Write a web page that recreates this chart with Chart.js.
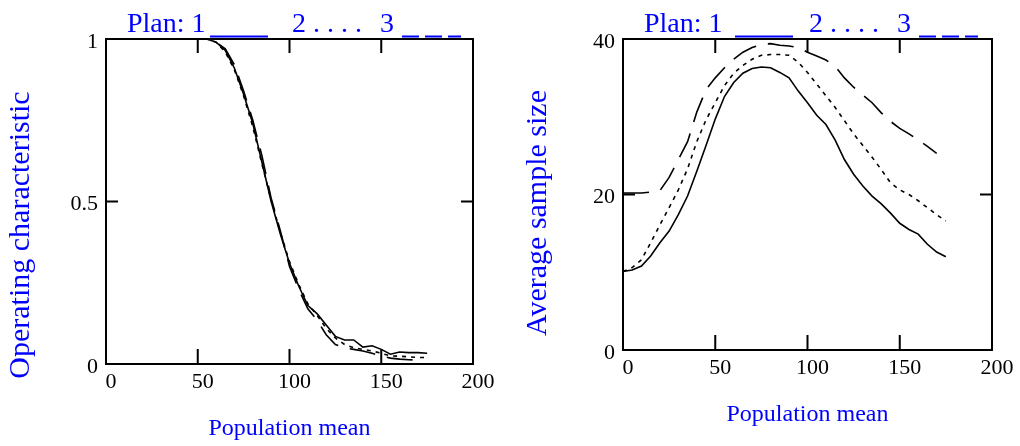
<!DOCTYPE html>
<html>
<head>
<meta charset="utf-8">
<title>Operating characteristic and average sample size</title>
<script src="https://cdn.jsdelivr.net/npm/chart.js@4.4.1/dist/chart.umd.min.js"></script>
<style>
  body { margin: 0; background: #fff; }
  #wrap { position: relative; width: 1020px; height: 446px; }
  canvas { position: absolute; top: 0; }
  #ocChart { left: 0; }
  #asnChart { left: 510px; }
</style>
</head>
<body>
<div id="wrap">
  <canvas id="ocChart" width="510" height="446"></canvas>
  <canvas id="asnChart" width="510" height="446"></canvas>
</div>
<script>
// population means shared by all curves
const popMean = [0,5,10,15,20,25,30,35,40,45,50,55,60,65,70,75,80,85,90,95,100,105,110,115,120,125,130,135,140,145,150,155,160,165,170,175];

// operating characteristic, plans 1-3
const ocPlan1 = [1,1,1,1,1,1,1,1,1,1,1,1,0.99,0.965,0.91,0.83,0.74,0.62,0.5,0.4,0.31,0.24,0.18,0.155,0.12,0.085,0.074,0.074,0.052,0.056,0.045,0.03,0.037,0.035,0.035,0.033];
const ocPlan2 = [1,1,1,1,1,1,1,1,1,1,1,1,0.99,0.96,0.905,0.825,0.73,0.615,0.505,0.405,0.315,0.245,0.185,0.15,0.11,0.08,0.06,0.05,0.045,0.04,0.033,0.025,0.024,0.022,0.02,0.02];
const ocPlan3 = [1,1,1,1,1,1,1,1,1,1,1,1,0.99,0.97,0.92,0.84,0.75,0.64,0.51,0.41,0.30,0.23,0.17,0.135,0.09,0.06,0.05,0.045,0.04,0.033,0.025,0.018,0.015,0.013,0.012,null];

// average sample size, plans 1-3
const asnPlan1 = [10.1,10.3,10.8,12.1,13.8,15.3,17.4,19.8,23.0,26.3,29.7,32.6,34.4,35.6,36.2,36.4,36.3,35.7,35.0,33.3,31.8,30.2,29.0,27.0,24.5,22.6,21.1,19.8,18.8,17.6,16.3,15.5,14.9,13.6,12.6,12.0];
const asnPlan2 = [10.1,10.6,11.6,13.8,16.1,18.3,20.6,23.3,26.8,29.6,31.8,34.0,35.6,36.6,37.4,37.9,38.0,38.0,37.9,37.0,35.7,34.2,32.7,31.2,29.5,27.8,26.3,24.8,23.2,21.5,20.6,20.0,19.2,18.3,17.4,16.6];
const asnPlan3 = [20.2,20.2,20.2,20.3,20.5,22.2,24.5,26.8,30.6,33.5,35.0,36.3,37.4,38.3,38.9,39.3,39.4,39.2,39.1,38.9,38.3,37.8,37.3,36.5,35.0,33.8,32.8,31.8,30.5,29.4,28.5,27.8,27.0,26.2,25.3,null];

// tick labels
const xTicks = [0,50,100,150,200];
const ocTicks = [0,0.5,1];
const asnTicks = [0,20,40];

const SERIF = '"Liberation Serif", "Times New Roman", serif';
Chart.defaults.font.family = SERIF;
Chart.defaults.color = '#000';

// box around the plot with short inward ticks on all four sides
const framePlugin = {
  id: 'frame',
  afterDatasetsDraw(chart) {
    const {ctx, chartArea: a, scales: {x, y}} = chart;
    ctx.save();
    ctx.strokeStyle = '#000';
    ctx.lineWidth = 2;
    ctx.strokeRect(a.left, a.top, a.right - a.left, a.bottom - a.top);
    ctx.beginPath();
    x.ticks.forEach(t => {
      const px = x.getPixelForValue(t.value);
      ctx.moveTo(px, a.bottom); ctx.lineTo(px, a.bottom - 15);
      ctx.moveTo(px, a.top); ctx.lineTo(px, a.top + 14);
    });
    y.ticks.forEach(t => {
      const py = y.getPixelForValue(t.value);
      ctx.moveTo(a.left, py); ctx.lineTo(a.left + 12, py);
      ctx.moveTo(a.right, py); ctx.lineTo(a.right - 12, py);
    });
    ctx.stroke();
    ctx.restore();
  }
};

// blue key above the plot plus the blue axis titles
const planKeyPlugin = {
  id: 'planKey',
  afterDraw(chart, args, opts) {
    const {ctx, chartArea: a} = chart;
    const x0 = a.left;
    ctx.save();
    ctx.fillStyle = '#0000ff';
    ctx.strokeStyle = '#0000ff';
    ctx.font = '28px ' + SERIF;
    ctx.textAlign = 'left';
    ctx.textBaseline = 'alphabetic';
    ctx.fillText('Plan: 1', x0 + 21, 32);
    ctx.fillText('2 . . . .', x0 + 186, 32);
    ctx.fillText('3', x0 + 274, 32);
    ctx.lineWidth = 2;
    ctx.beginPath();
    ctx.moveTo(x0 + opts.lineStart, 36.5); ctx.lineTo(x0 + opts.lineStart + 58, 36.5);
    ctx.stroke();
    ctx.setLineDash([17, 6]);
    ctx.beginPath();
    ctx.moveTo(x0 + 296, 36.5); ctx.lineTo(x0 + 355, 36.5);
    ctx.stroke();
    ctx.setLineDash([]);

    // x title
    ctx.font = '24px ' + SERIF;
    ctx.textAlign = 'center';
    ctx.fillText('Population mean', (a.left + a.right) / 2, a.bottom + 71);
    // y title
    ctx.font = '30px ' + SERIF;
    ctx.translate(a.left - 85, opts.yTitleMid);
    ctx.rotate(-Math.PI / 2);
    ctx.textBaseline = 'middle';
    ctx.fillText(opts.yTitle, 0, 0);
    ctx.restore();
  }
};

function curve(values) {
  return values.map((v, i) => ({x: popMean[i], y: v}));
}

function planSets(p1, p2, p3) {
  const base = {borderColor: '#000', borderWidth: 1.6, pointRadius: 0, tension: 0, fill: false};
  return [
    Object.assign({label: 'Plan 1', data: curve(p1)}, base),
    Object.assign({label: 'Plan 2', data: curve(p2), borderDash: [4, 5]}, base),
    Object.assign({label: 'Plan 3', data: curve(p3), borderDash: [26, 12]}, base)
  ];
}

function makeChart(id, sets, yMax, yTickVals, box) {
  return new Chart(document.getElementById(id), {
    type: 'line',
    data: {datasets: sets},
    options: {
      responsive: false,
      animation: false,
      layout: {padding: {left: 0, top: box.top, right: box.right, bottom: 0}},
      plugins: {
        legend: {display: false},
        tooltip: {enabled: false},
        planKey: box.key
      },
      scales: {
        x: {
          type: 'linear', min: 0, max: 200,
          grid: {display: false, drawTicks: false},
          border: {display: false},
          afterBuildTicks: s => { s.ticks = xTicks.map(v => ({value: v})); },
          afterFit: s => { s.height = box.xHeight; s.paddingLeft = 0; s.paddingRight = 0; },
          ticks: {font: {size: 22}, padding: 5, labelOffset: 5, maxRotation: 0, autoSkip: false,
                  callback: v => String(v)}
        },
        y: {
          type: 'linear', min: 0, max: yMax,
          grid: {display: false, drawTicks: false},
          border: {display: false},
          afterBuildTicks: s => { s.ticks = yTickVals.map(v => ({value: v})); },
          afterFit: s => { s.width = box.yWidth; s.paddingTop = 0; s.paddingBottom = 0; },
          ticks: {font: {size: 22}, padding: 8, labelOffset: 3, callback: v => String(v)}
        }
      }
    },
    plugins: [framePlugin, planKeyPlugin]
  });
}

makeChart('ocChart', planSets(ocPlan1, ocPlan2, ocPlan3), 1, ocTicks,
  {top: 39, right: 37, xHeight: 82, yWidth: 106,
   key: {lineStart: 104, yTitle: 'Operating characteristic', yTitleMid: 235}});

makeChart('asnChart', planSets(asnPlan1, asnPlan2, asnPlan3), 40, asnTicks,
  {top: 39, right: 28, xHeight: 96, yWidth: 113,
   key: {lineStart: 112, yTitle: 'Average sample size', yTitleMid: 213}});
</script>
</body>
</html>
